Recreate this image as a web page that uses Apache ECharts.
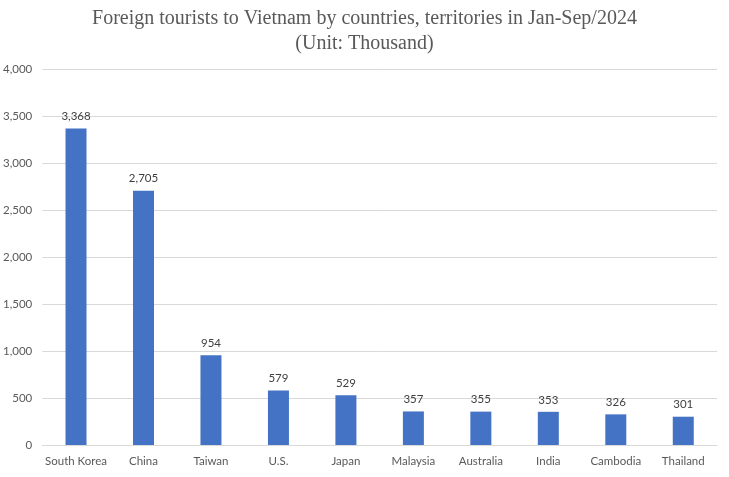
<!DOCTYPE html>
<html><head><meta charset="utf-8">
<script src="https://cdn.jsdelivr.net/npm/echarts@6/dist/echarts.min.js"></script>
<style>html,body{margin:0;padding:0;background:#fff}#c{width:729px;height:477px}</style>
</head><body><div id="c"></div>
<script>
const categories = ["South Korea","China","Taiwan","U.S.","Japan","Malaysia","Australia","India","Cambodia","Thailand"];
const values = [3368,2705,954,579,529,357,355,353,326,301];
const titleText = "Foreign tourists to Vietnam by countries, territories in Jan-Sep/2024\n(Unit: Thousand)";
const fnt = 'Lato, sans-serif';

const chart = echarts.init(document.getElementById('c'));
chart.setOption({
  animation:false,
  title:{text:titleText,left:'center',top:1,textStyle:{fontFamily:'Liberation Serif',fontSize:20,fontWeight:'normal',color:'#595959',lineHeight:25}},
  grid:{left:42,right:12,top:69,bottom:32,containLabel:false},
  xAxis:{type:'category',data:categories,axisTick:{show:false},axisLine:{lineStyle:{color:'#d9d9d9'}},
    axisLabel:{interval:0,color:'#595959',fontSize:11.5,fontFamily:fnt,margin:10}},
  yAxis:{type:'value',min:0,max:4000,interval:500,axisLine:{show:false},axisTick:{show:false},
    splitLine:{lineStyle:{color:'#d9d9d9'}},
    axisLabel:{color:'#595959',fontSize:11.5,margin:10,fontFamily:fnt,
      formatter:v=>v.toLocaleString('en-US')}},
  series:[{type:'bar',data:values,barWidth:21,itemStyle:{color:'#4472c4'},
    label:{show:true,position:'top',distance:6,color:'#404040',fontSize:11.5,fontFamily:fnt,
      formatter:p=>p.value.toLocaleString('en-US')}}]
});
</script></body></html>
